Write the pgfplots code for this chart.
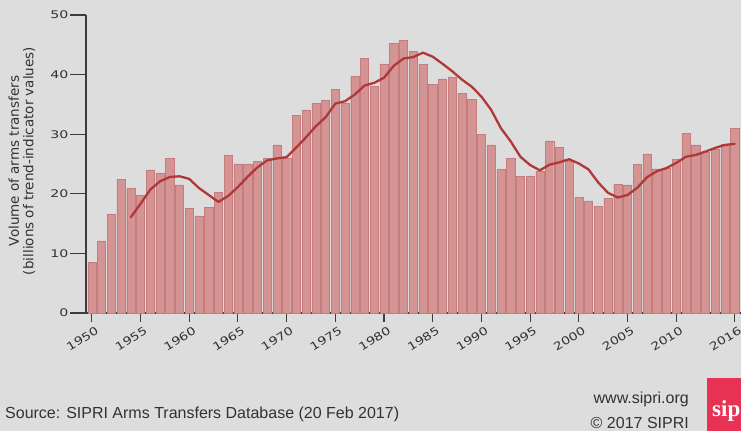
\documentclass[border=0pt]{standalone}
\usepackage{pgfplots}
\usepackage{pgfplotstable}
\pgfplotsset{compat=1.18}
\usepackage{fontspec}
\setmainfont{Liberation Sans}
\newfontfamily\dejavu{DejaVu Sans}
\newfontfamily\logofont{Liberation Serif}
\definecolor{bg}{RGB}{221,221,221}
\definecolor{barfill}{RGB}{213,148,148}
\definecolor{baredge}{RGB}{198,124,124}
\definecolor{trend}{RGB}{176,56,56}
\definecolor{axisgray}{RGB}{60,60,60}
\definecolor{txtgray}{RGB}{50,50,50}
\definecolor{sipred}{RGB}{232,50,84}
\newcommand{\wide}[1]{\scalebox{1.35}[1]{#1}}
\newcommand{\xwide}[1]{\scalebox{1.25}[1]{#1}}

\pgfplotstableread{
year value
1950 8.5
1951 12.1
1952 16.5
1953 22.4
1954 20.9
1955 19.7
1956 24.0
1957 23.5
1958 26.0
1959 21.5
1960 17.5
1961 16.3
1962 17.7
1963 20.2
1964 26.5
1965 25.0
1966 25.0
1967 25.5
1968 26.0
1969 28.2
1970 26.0
1971 33.2
1972 34.1
1973 35.2
1974 35.7
1975 37.5
1976 35.2
1977 39.7
1978 42.7
1979 38.0
1980 41.8
1981 45.2
1982 45.8
1983 43.9
1984 41.7
1985 38.4
1986 39.3
1987 39.5
1988 36.9
1989 35.8
1990 30.0
1991 28.2
1992 24.1
1993 25.9
1994 22.9
1995 23.0
1996 23.8
1997 28.9
1998 27.8
1999 25.5
2000 19.4
2001 18.8
2002 17.9
2003 19.2
2004 21.6
2005 21.5
2006 24.9
2007 26.7
2008 24.2
2009 24.3
2010 25.8
2011 30.1
2012 28.2
2013 27.0
2014 27.4
2015 28.3
2016 31.0
}\arms

\pgfplotstableread{
year avg
1954 16.08
1955 18.32
1956 20.70
1957 22.10
1958 22.82
1959 22.94
1960 22.50
1961 20.96
1962 19.80
1963 18.64
1964 19.64
1965 21.14
1966 22.88
1967 24.44
1968 25.60
1969 25.94
1970 26.14
1971 27.78
1972 29.50
1973 31.34
1974 32.84
1975 35.14
1976 35.54
1977 36.66
1978 38.16
1979 38.62
1980 39.48
1981 41.48
1982 42.70
1983 42.94
1984 43.68
1985 43.00
1986 41.82
1987 40.56
1988 39.16
1989 37.98
1990 36.30
1991 34.08
1992 31.00
1993 28.80
1994 26.22
1995 24.82
1996 23.94
1997 24.90
1998 25.28
1999 25.80
2000 25.08
2001 24.08
2002 21.88
2003 20.16
2004 19.38
2005 19.80
2006 21.02
2007 22.78
2008 23.78
2009 24.32
2010 25.18
2011 26.22
2012 26.52
2013 27.08
2014 27.70
2015 28.20
2016 28.38
}\trendtab

\begin{document}
\begin{tikzpicture}[x=1pt,y=1pt]
\useasboundingbox (0,0) rectangle (741,431);
\clip (0,0) rectangle (741,431);
\fill[bg] (0,0) rectangle (741,431);

\begin{axis}[
  at={(86pt,118pt)}, anchor=south west,
  scale only axis, width=655pt, height=298pt,
  xmin=1949.4, xmax=2016.65, ymin=0, ymax=50,
  axis x line=bottom, axis y line=left,
  axis line style={-, draw=axisgray, line width=1.1pt},
  xtick={1950,1955,1960,1965,1970,1975,1980,1985,1990,1995,2000,2005,2010,2016},
  tick align=outside, major tick length=9pt,
  xtick style={draw=axisgray, line width=1.1pt},
  ytick={0,10,20,30,40,50}, ytick style={draw=none}, yticklabels={},
  xticklabel={\xwide{\pgfmathprintnumber[1000 sep={},assume math mode=true]{\tick}}},
  x tick label style={font=\dejavu\fontsize{11}{12}\selectfont, text=txtgray,
     xshift=6pt, yshift=-7pt, rotate=32, anchor=east, inner sep=0.5pt},
  clip=false,
]
\addplot[ybar, bar width=0.84, fill=barfill, draw=baredge, line width=0.4pt]
  table[x=year, y=value]{\arms};
\addplot[trend, line width=2.3pt, line join=round, line cap=round]
  table[x=year, y=avg]{\trendtab};
\end{axis}

\begin{axis}[
  at={(86pt,118pt)}, anchor=south west,
  scale only axis, width=655pt, height=298pt,
  xmin=1949.4, xmax=2016.65, ymin=0, ymax=50,
  axis x line=none, axis y line=left,
  axis line style={-, draw=axisgray, line width=1.1pt},
  xtick=\empty,
  ytick={0,10,20,30,40,50},
  tick align=outside, major tick length=16pt,
  ytick style={draw=axisgray, line width=1.1pt},
  yticklabel={\wide{\pgfmathprintnumber[assume math mode=true]{\tick}}},
  y tick label style={font=\dejavu\fontsize{10.5}{12}\selectfont, text=txtgray, inner sep=1.5pt},
]
\end{axis}

\node[rotate=90, align=center, text=txtgray, inner sep=0,
  font=\dejavu\fontsize{13.5}{14.5}\selectfont] at (22,270)
  {Volume of arms transfers\\(billions of trend-indicator values)};

\node[anchor=base west, inner sep=0, text=txtgray, font=\fontsize{16}{18}\selectfont]
  at (5,13) {Source: SIPRI Arms Transfers Database (20 Feb 2017)};
\node[anchor=base east, inner sep=0, text=txtgray, font=\fontsize{16}{18}\selectfont]
  at (689,28) {www.sipri.org};
\node[anchor=base east, inner sep=0, text=txtgray, font=\fontsize{16}{18}\selectfont]
  at (689,3) {\textcopyright{} 2017 SIPRI};
\fill[sipred] (707,0) rectangle (770,53);
\node[anchor=base west, inner sep=0, text=white, font=\logofont\bfseries\fontsize{23}{25}\selectfont]
  at (712,15) {sipri};
\end{tikzpicture}
\end{document}
